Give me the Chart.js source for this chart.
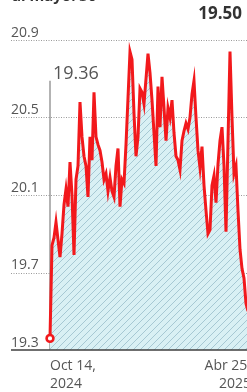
<!DOCTYPE html>
<html>
<head>
<meta charset="utf-8">
<script src="https://cdn.jsdelivr.net/npm/chart.js@4/dist/chart.umd.min.js"></script>
<style>
  html, body { margin: 0; padding: 0; background: #ffffff; overflow: hidden; width: 247px; height: 392px; }
  #wrap { position: absolute; left: 0; top: 0; width: 252px; height: 392px; }
</style>
</head>
<body>
<div id="wrap"><canvas id="c" width="252" height="392"></canvas></div>
<script>
// ---- data ----
const titleText = "al mayo. 30";
const xTickLabels = [["Oct 14,", "2024"], ["Abr 25,", "2025"]];
const yTicks = [19.3, 19.7, 20.1, 20.5, 20.9];
const values = [
  19.36, 19.84, 19.88, 19.96, 19.87, 19.78, 19.90, 20.05, 20.13, 20.04,
  20.27, 20.10, 19.79, 20.18, 20.25, 20.58, 20.40, 20.30, 20.25, 20.09,
  20.40, 20.28, 20.63, 20.40, 20.36, 20.33, 20.27, 20.18, 20.21, 20.12,
  20.19, 20.12, 20.09, 20.25, 20.34, 20.04, 20.18, 20.16, 20.36, 20.60,
  20.84, 20.80, 20.52, 20.30, 20.40, 20.65, 20.63, 20.57, 20.70, 20.83,
  20.73, 20.59, 20.42, 20.25, 20.66, 20.45, 20.71, 20.55, 20.38, 20.55,
  20.50, 20.59, 20.42, 20.30, 20.28, 20.23, 20.38, 20.43, 20.47, 20.44,
  20.50, 20.62, 20.69, 20.50, 20.33, 20.24, 20.35, 20.15, 20.02, 19.90,
  19.92, 20.15, 20.20, 20.06, 20.26, 20.38, 20.45, 20.25, 19.91, 20.38,
  20.84, 20.50, 20.21, 20.25, 20.02, 19.82, 19.72, 19.67, 19.54, 19.50
];

// ---- styles ----
const FONT = "'Open Sans', 'Liberation Sans', sans-serif";
const lineRed = '#f2191c';
const labelGray = '#555555';

function makeHatch() {
  const s = 7;
  const p = document.createElement('canvas');
  p.width = s; p.height = s;
  const g = p.getContext('2d');
  g.fillStyle = '#d9f0f4';
  g.fillRect(0, 0, s, s);
  g.strokeStyle = '#a6c8d3';
  g.lineWidth = 1;
  g.beginPath();
  g.moveTo(0, s); g.lineTo(s, 0);
  g.moveTo(-1, 1); g.lineTo(1, -1);
  g.moveTo(s - 1, s + 1); g.lineTo(s + 1, s - 1);
  g.stroke();
  return document.getElementById('c').getContext('2d').createPattern(p, 'repeat');
}

const decor = {
  id: 'decor',
  beforeDatasetsDraw(chart) {
    const ctx = chart.ctx;
    const ys = chart.scales.y, xs = chart.scales.x;
    ctx.save();
    ctx.strokeStyle = '#9a9a9a';
    ctx.lineWidth = 1;
    ctx.setLineDash([1, 1.5]);
    yTicks.forEach(t => {
      if (t === yTicks[0]) return;
      const y = Math.round(ys.getPixelForValue(t)) + 0.5;
      ctx.beginPath();
      ctx.moveTo(11, y); ctx.lineTo(chart.width, y);
      ctx.stroke();
    });
    ctx.setLineDash([]);
    const x0 = xs.getPixelForValue(0);
    ctx.strokeStyle = '#808080';
    ctx.lineWidth = 1.2;
    ctx.beginPath();
    ctx.moveTo(x0, ys.getPixelForValue(20.69));
    ctx.lineTo(x0, ys.getPixelForValue(yTicks[0]));
    ctx.stroke();
    ctx.restore();
  },
  afterDatasetsDraw(chart) {
    const ctx = chart.ctx;
    const ys = chart.scales.y, xs = chart.scales.x;
    ctx.save();
    const yb = ys.getPixelForValue(yTicks[0]);
    ctx.strokeStyle = '#3f3f3f';
    ctx.lineWidth = 1.6;
    ctx.beginPath();
    ctx.moveTo(11, yb); ctx.lineTo(chart.width, yb);
    ctx.stroke();
    ctx.fillStyle = labelGray;
    ctx.font = '14px ' + FONT;
    ctx.textAlign = 'left';
    ctx.textBaseline = 'alphabetic';
    yTicks.forEach(t => {
      ctx.fillText(t.toFixed(1), 11, ys.getPixelForValue(t) - 3.5);
    });
    const x0 = xs.getPixelForValue(0);
    const y0 = ys.getPixelForValue(values[0]);
    ctx.beginPath();
    ctx.arc(x0, y0, 3.4, 0, Math.PI * 2);
    ctx.fillStyle = '#ffffff';
    ctx.fill();
    ctx.strokeStyle = lineRed;
    ctx.lineWidth = 2.6;
    ctx.stroke();
    ctx.fillStyle = labelGray;
    ctx.font = '18px ' + FONT;
    ctx.textAlign = 'left';
    ctx.fillText(values[0].toFixed(2), x0 + 3, 79);
    ctx.fillStyle = '#333333';
    ctx.font = 'bold 17px ' + FONT;
    ctx.textAlign = 'right';
    ctx.fillText(values[values.length - 1].toFixed(2), 242, 19);
    ctx.fillStyle = labelGray;
    ctx.font = '14px ' + FONT;
    ctx.textAlign = 'left';
    ctx.fillText(xTickLabels[0][0], x0, 370);
    ctx.fillText(xTickLabels[0][1], x0, 388);
    ctx.textAlign = 'right';
    ctx.fillText(xTickLabels[1][0], 251, 370);
    ctx.fillText(xTickLabels[1][1], 251, 388);
    ctx.fillStyle = '#333333';
    ctx.font = 'bold 15px ' + FONT;
    ctx.textAlign = 'left';
    ctx.fillText(titleText, 12, 1);
    ctx.restore();
  }
};

new Chart(document.getElementById('c'), {
  type: 'line',
  data: {
    datasets: [{
      data: values.map((v, i) => ({ x: i, y: v })),
      borderColor: lineRed,
      borderWidth: 3,
      backgroundColor: makeHatch(),
      fill: 'start',
      tension: 0,
      pointRadius: 0,
      borderJoinStyle: 'miter'
    }]
  },
  options: {
    responsive: false,
    animation: false,
    devicePixelRatio: 1,
    layout: { padding: { left: 11, right: 4, top: 40, bottom: 42 } },
    plugins: { legend: { display: false }, tooltip: { enabled: false } },
    scales: {
      x: { type: 'linear', display: false, min: -19.5, max: values.length - 1 },
      y: { display: false, min: yTicks[0], max: yTicks[yTicks.length - 1] }
    }
  },
  plugins: [decor]
});
</script>
</body>
</html>
